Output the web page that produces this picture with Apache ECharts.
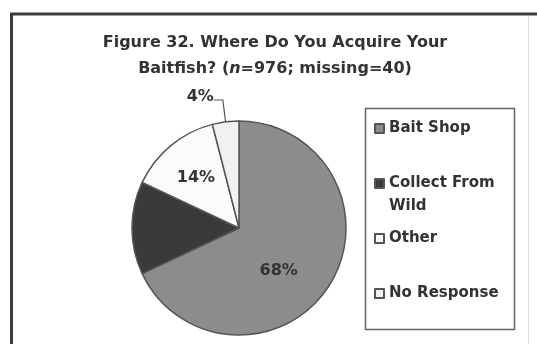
<!DOCTYPE html>
<html>
<head>
<meta charset="utf-8">
<script src="https://cdn.jsdelivr.net/npm/echarts@6/dist/echarts.min.js"></script>
<style>
html,body{margin:0;padding:0;background:#fff;}
#chart{width:537px;height:344px;}
</style>
</head>
<body>
<div id="chart"></div>
<script>
const categories = ['Bait Shop', 'Collect From Wild', 'Other', 'No Response'];
const percents = [68, 14, 14, 4];
const sliceColors = ['#8c8c8c', '#3a3a3a', '#fbfbfb', '#f1f1f1'];

const FONT = 'DejaVu Sans';
const TXT = '#333333';

const legendTops = [121, 153, 231, 286];
const labelNudge = {'Bait Shop': [-8, 13], 'Other': [-7, -7], 'No Response': [2, -3]};

const chart = echarts.init(document.getElementById('chart'), null, {renderer: 'canvas'});

const seriesData = categories.map((name, i) => {
  const item = {name: name, value: percents[i], itemStyle: {color: sliceColors[i]}};
  if (name === 'Collect From Wild') {
    item.label = {show: false};
  }
  if (name === 'No Response') {
    item.label = {show: true, position: 'outside', distanceToLabelLine: 2};
    item.labelLine = {show: true, length: 22, length2: 9, lineStyle: {color: '#555', width: 1.2}};
  }
  return item;
});

const legends = categories.map((name, i) => {
  const isTwoLine = name === 'Collect From Wild';
  return {
    data: [name],
    orient: 'vertical',
    left: 374,
    top: legendTops[i],
    padding: 0,
    itemWidth: 9,
    itemHeight: 9,
    selectedMode: false,
    icon: 'rect',
    formatter: isTwoLine ? '{t| }\n{t|Collect From}\n{t|Wild}' : '{t|' + name + '}',
    textStyle: {
      fontFamily: FONT,
      fontWeight: 'bold',
      fontSize: 15,
      color: TXT,
      rich: {t: {fontFamily: FONT, fontWeight: 'bold', fontSize: 15, color: TXT, lineHeight: 23}}
    }
  };
});

const option = {
  backgroundColor: '#ffffff',
  animation: false,
  title: {
    text: '{b|Figure 32. Where Do You Acquire Your}\n{b|Baitfish? (}{i|n}{b|=976; missing=40)}',
    left: 275,
    top: 30,
    textAlign: 'center',
    padding: 0,
    textStyle: {
      rich: {
        b: {fontFamily: FONT, fontWeight: 'bold', fontSize: 16, color: TXT, lineHeight: 26},
        i: {fontFamily: FONT, fontWeight: 'bold', fontStyle: 'italic', fontSize: 16, color: TXT, lineHeight: 26}
      }
    }
  },
  legend: legends,
  graphic: [
    {type: 'line', shape: {x1: 11.5, y1: 14, x2: 11.5, y2: 344}, style: {stroke: '#3c3c3c', lineWidth: 3}},
    {type: 'line', shape: {x1: 10, y1: 14, x2: 537, y2: 14}, style: {stroke: '#3c3c3c', lineWidth: 3}},
    {type: 'line', shape: {x1: 528.5, y1: 16, x2: 528.5, y2: 344}, style: {stroke: '#d8d8d8', lineWidth: 1}},
    {type: 'rect', shape: {x: 365.5, y: 108.5, width: 149, height: 221}, style: {fill: 'none', stroke: '#666', lineWidth: 1.5}, z: -1}
  ],
  series: [{
    type: 'pie',
    center: [239, 228],
    radius: 107,
    startAngle: 90,
    clockwise: true,
    avoidLabelOverlap: false,
    itemStyle: {borderColor: '#555555', borderWidth: 1.5},
    label: {
      show: true,
      position: 'inside',
      formatter: '{c}%',
      fontFamily: FONT,
      fontWeight: 'bold',
      fontSize: 16,
      color: TXT
    },
    labelLine: {show: false},
    labelLayout: function (params) {
      const n = labelNudge[categories[params.dataIndex]];
      return n ? {dx: n[0], dy: n[1]} : {};
    },
    emphasis: {disabled: true},
    data: seriesData
  }]
};

chart.setOption(option);
</script>
</body>
</html>
